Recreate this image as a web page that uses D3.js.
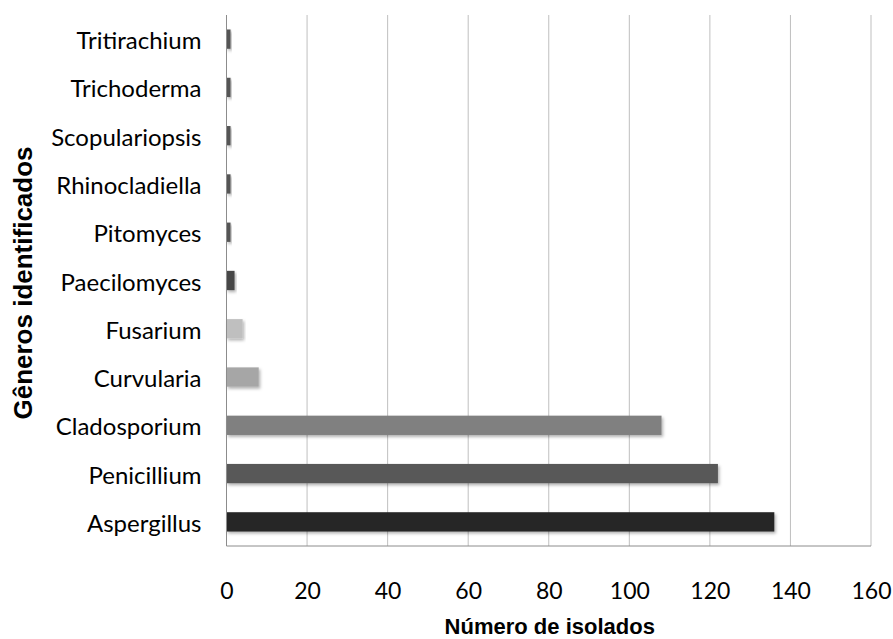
<!DOCTYPE html>
<html>
<head>
<meta charset="utf-8">
<script src="https://cdn.jsdelivr.net/npm/d3@7"></script>
<style>
  html, body { margin: 0; padding: 0; background: #fff; }
  svg { display: block; }
</style>
</head>
<body>
<svg id="chart" width="893" height="639"></svg>
<script>
// Fungal genera and number of isolates
const genera = ["Aspergillus", "Penicillium", "Cladosporium", "Curvularia", "Fusarium",
  "Paecilomyces", "Pitomyces", "Rhinocladiella", "Scopulariopsis", "Trichoderma", "Tritirachium"];
const isolates = [136, 122, 108, 8, 4, 2, 1, 1, 1, 1, 1];
const barColors = ["#262626", "#595959", "#808080", "#a6a6a6", "#bfbfbf",
  "#474747", "#555555", "#555555", "#555555", "#555555", "#555555"];
const xTicks = [0, 20, 40, 60, 80, 100, 120, 140, 160];
const xTitle = "Número de isolados";
const yTitle = "Gêneros identificados";

const labelFont = "Lato, 'Open Sans', sans-serif";
const titleFont = "'Liberation Sans', Arial, sans-serif";
const svg = d3.select("#chart");
const m = { left: 226.5, right: 871, top: 15, bottom: 546 };

const x = d3.scaleLinear().domain([0, 160]).range([m.left, m.right]);
const y = d3.scaleBand().domain(genera).range([m.bottom, m.top]).paddingInner(0.6).paddingOuter(0.3);

// soft shadow under the bars
const defs = svg.append("defs");
const f = defs.append("filter").attr("id", "shadow").attr("x", "-10%").attr("y", "-30%")
  .attr("width", "130%").attr("height", "180%");
f.append("feDropShadow").attr("dx", 1.5).attr("dy", 2).attr("stdDeviation", 1.5)
  .attr("flood-color", "#000").attr("flood-opacity", 0.3);

// vertical gridlines
svg.append("g").selectAll("line").data(xTicks.slice(1)).join("line")
  .attr("x1", d => x(d)).attr("x2", d => x(d))
  .attr("y1", m.top).attr("y2", m.bottom)
  .attr("stroke", "#bfbfbf").attr("stroke-width", 1);

// bars
svg.append("g").selectAll("rect").data(genera).join("rect")
  .attr("x", x(0))
  .attr("y", d => y(d))
  .attr("width", (d, i) => x(isolates[i]) - x(0))
  .attr("height", y.bandwidth())
  .attr("fill", (d, i) => barColors[i])
  .attr("filter", "url(#shadow)");

// axis lines
svg.append("line").attr("x1", x(0)).attr("x2", x(0)).attr("y1", m.top).attr("y2", m.bottom)
  .attr("stroke", "#8c8c8c").attr("stroke-width", 1);
svg.append("line").attr("x1", x(0)).attr("x2", x(160)).attr("y1", m.bottom).attr("y2", m.bottom)
  .attr("stroke", "#8c8c8c").attr("stroke-width", 1);

// x axis tick labels
const xAxis = d3.axisBottom(x).tickValues(xTicks).tickSize(0).tickPadding(0);
const gx = svg.append("g").attr("transform", `translate(0,${m.bottom})`).call(xAxis);
gx.select(".domain").remove();
gx.selectAll("text").attr("font-family", labelFont).attr("font-size", 23).attr("fill", "#000")
  .attr("dy", null).attr("y", 53);

// y axis category labels
const yAxis = d3.axisLeft(y).tickSize(0).tickPadding(0);
const gy = svg.append("g").attr("transform", `translate(${m.left - 25},0)`).call(yAxis);
gy.select(".domain").remove();
gy.selectAll("text").attr("font-family", labelFont).attr("font-size", 24).attr("fill", "#000")
  .attr("dy", null).attr("y", 10);

// axis titles
svg.append("text").attr("x", (m.left + x(160)) / 2 + 1).attr("y", 634)
  .attr("text-anchor", "middle").attr("font-family", titleFont).attr("font-weight", "bold")
  .attr("font-size", 22).attr("fill", "#000").text(xTitle);
svg.append("text").attr("transform", `translate(32,283) rotate(-90)`)
  .attr("text-anchor", "middle").attr("font-family", titleFont).attr("font-weight", "bold")
  .attr("font-size", 26).attr("fill", "#000").text(yTitle);
</script>
</body>
</html>
